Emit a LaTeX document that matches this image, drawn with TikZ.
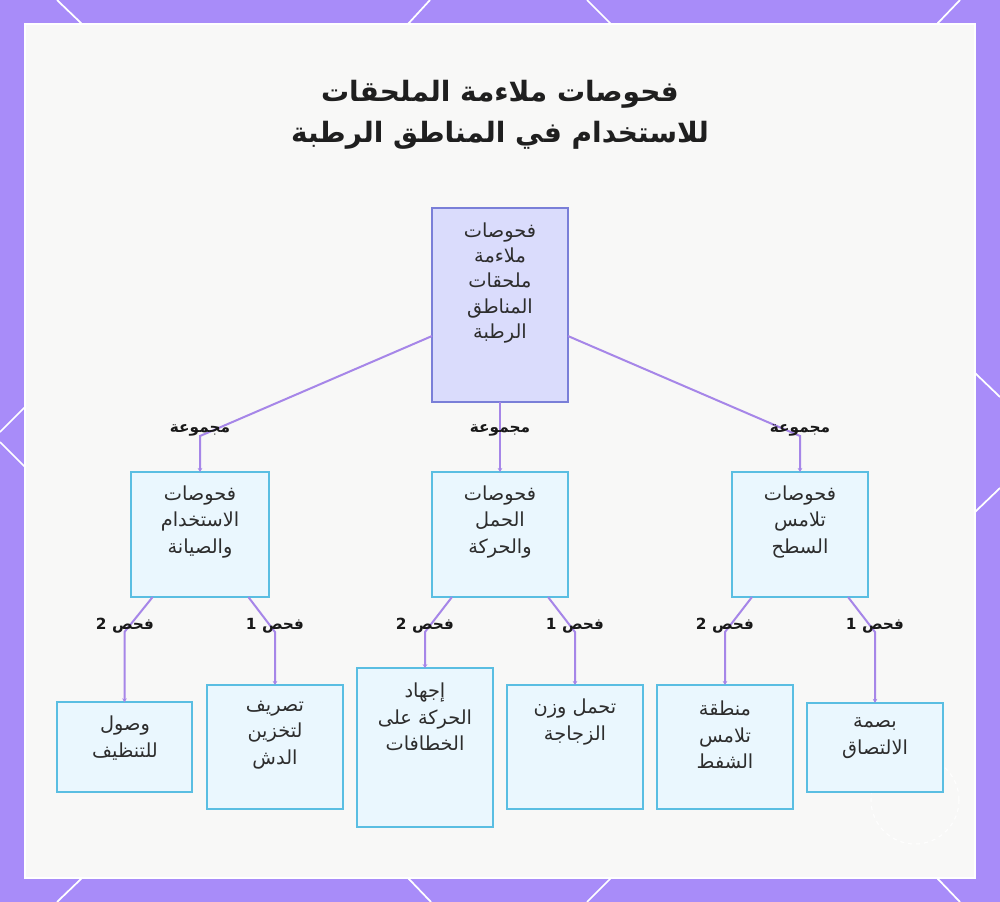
\documentclass[tikz,border=0pt]{standalone}
\usepackage{fontspec}
\usetikzlibrary{arrows.meta,calc}
\newfontfamily\arabicfont[Script=Arabic]{DejaVu Sans}
\TeXXeTstate=1
\newcommand\artxt[1]{\beginR #1\endR}
\definecolor{bgpurple}{RGB}{168,140,249}
\definecolor{panelc}{RGB}{248,248,247}
\definecolor{rootfill}{RGB}{218,220,252}
\definecolor{rootline}{RGB}{122,127,216}
\definecolor{boxfill}{RGB}{234,247,254}
\definecolor{boxline}{RGB}{90,190,226}
\definecolor{edgec}{RGB}{166,134,232}
\definecolor{txtc}{RGB}{45,45,45}
\tikzset{
  deco/.style={draw=white, line width=1.3pt},
  rootbox/.style={draw=rootline, fill=rootfill, line width=1.4pt, inner sep=0pt, outer sep=0pt},
  box/.style={draw=boxline, fill=boxfill, line width=1.4pt, inner sep=0pt, outer sep=0pt},
  boxtxt/.style={align=center, text=txtc, inner sep=0pt, font=\arabicfont\fontsize{14.5}{20}\selectfont},
  lbl/.style={text=black!90, inner sep=0pt, font=\arabicfont\bfseries\fontsize{11.5}{13}\selectfont},
  edge/.style={draw=edgec, line width=1.5pt, -{Stealth[length=3pt,width=3.5pt]}},
}
\begin{document}
\begin{tikzpicture}[x=0.75pt,y=-0.75pt]
\useasboundingbox (0,0) rectangle (1000,902);
\fill[bgpurple] (0,0) rectangle (1000,902);
% decorative lines
\draw[deco] (57,0) -- (82,24);
\draw[deco] (430,0) -- (408,24);
\draw[deco] (587,0) -- (611,24);
\draw[deco] (960,0) -- (937,24);
\draw[deco] (82,878) -- (57,902);
\draw[deco] (408,878) -- (431,902);
\draw[deco] (611,878) -- (587,902);
\draw[deco] (937,878) -- (960,902);
\draw[deco] (25,407) -- (0,432);
\draw[deco] (0,442) -- (25,467);
\draw[deco] (975,373) -- (1000,397);
\draw[deco] (975,512) -- (1000,488);
% panel
\fill[panelc] (25,24) rectangle (975,878);
\draw[white, line width=1.2pt] (25,24) rectangle (975,878);
\draw[white, line width=0.8pt, dashed, opacity=0.9] (915,800) circle (44);
% title
\node[font=\arabicfont\bfseries\fontsize{21}{31}\selectfont, text=black!88, align=center] (title) at (500,115)
  {\artxt{فحوصات ملاءمة الملحقات}\\\artxt{للاستخدام في المناطق الرطبة}};
% boxes
\node[rootbox, minimum width=102pt, minimum height=145.5pt] (root) at (500,305) {};
\node[box, minimum width=104pt, minimum height=93.75pt] (c1) at (200,534.5) {};
\node[box, minimum width=102pt, minimum height=93.75pt] (c2) at (500,534.5) {};
\node[box, minimum width=102pt, minimum height=93.75pt] (c3) at (800,534.5) {};
\node[box, minimum width=101.25pt, minimum height=67pt] (g1) at (124.5,747) {};
\node[box, minimum width=102pt, minimum height=93pt] (g2) at (275,747) {};
\node[box, minimum width=102pt, minimum height=119pt] (g3) at (425,747.5) {};
\node[box, minimum width=102pt, minimum height=93pt] (g4) at (575,747) {};
\node[box, minimum width=102pt, minimum height=93pt] (g5) at (725,747) {};
\node[box, minimum width=102pt, minimum height=67pt] (g6) at (875,747.5) {};
% texts
\node[boxtxt, font=\arabicfont\fontsize{14.5}{19}\selectfont] (rootT) at (500,283)
  {\artxt{فحوصات}\\\artxt{ملاءمة}\\\artxt{ملحقات}\\\artxt{المناطق}\\\artxt{الرطبة}};
\node[boxtxt] (c1T) at (200,522) {\artxt{فحوصات}\\\artxt{الاستخدام}\\\artxt{والصيانة}};
\node[boxtxt] (c2T) at (500,522) {\artxt{فحوصات}\\\artxt{الحمل}\\\artxt{والحركة}};
\node[boxtxt] (c3T) at (800,522) {\artxt{فحوصات}\\\artxt{تلامس}\\\artxt{السطح}};
\node[boxtxt] (g1T) at (125,738) {\artxt{وصول}\\\artxt{للتنظيف}};
\node[boxtxt] (g2T) at (275,735) {\artxt{تصريف}\\\artxt{لتخزين}\\\artxt{الدش}};
\node[boxtxt] (g3T) at (425,717) {\artxt{إجهاد}\\\artxt{الحركة على}\\\artxt{الخطافات}};
\node[boxtxt] (g4T) at (575,722) {\artxt{تحمل وزن}\\\artxt{الزجاجة}};
\node[boxtxt] (g5T) at (725,735) {\artxt{منطقة}\\\artxt{تلامس}\\\artxt{الشفط}};
\node[boxtxt] (g6T) at (875,738) {\artxt{بصمة}\\\artxt{الالتصاق}};
% connectors level 1
\draw[edge] ($(root.south west)!0.34!(root.north west)$) -- (c1.north |- 0,436) -- (c1.north);
\draw[edge] (root.south) -- (c2.north);
\draw[edge] ($(root.south east)!0.34!(root.north east)$) -- (c3.north |- 0,436) -- (c3.north);
\node[lbl] (l1) at (200,430) {\artxt{مجموعة}};
\node[lbl] (l2) at (500,430) {\artxt{مجموعة}};
\node[lbl] (l3) at (800,430) {\artxt{مجموعة}};
% connectors level 2
\draw[edge] ($(c1.south west)+(22,0)$) -- (g1.north |- 0,632) -- (g1.north);
\draw[edge] ($(c1.south east)+(-21,0)$) -- (g2.north |- 0,632) -- (g2.north);
\draw[edge] ($(c2.south west)+(20,0)$) -- (g3.north |- 0,632) -- (g3.north);
\draw[edge] ($(c2.south east)+(-20,0)$) -- (g4.north |- 0,632) -- (g4.north);
\draw[edge] ($(c3.south west)+(20,0)$) -- (g5.north |- 0,632) -- (g5.north);
\draw[edge] ($(c3.south east)+(-20,0)$) -- (g6.north |- 0,632) -- (g6.north);
\node[lbl] (m1) at (125,626) {\artxt{فحص 2}};
\node[lbl] (m2) at (275,626) {\artxt{فحص 1}};
\node[lbl] (m3) at (425,626) {\artxt{فحص 2}};
\node[lbl] (m4) at (575,626) {\artxt{فحص 1}};
\node[lbl] (m5) at (725,626) {\artxt{فحص 2}};
\node[lbl] (m6) at (875,626) {\artxt{فحص 1}};
\end{tikzpicture}
\end{document}
